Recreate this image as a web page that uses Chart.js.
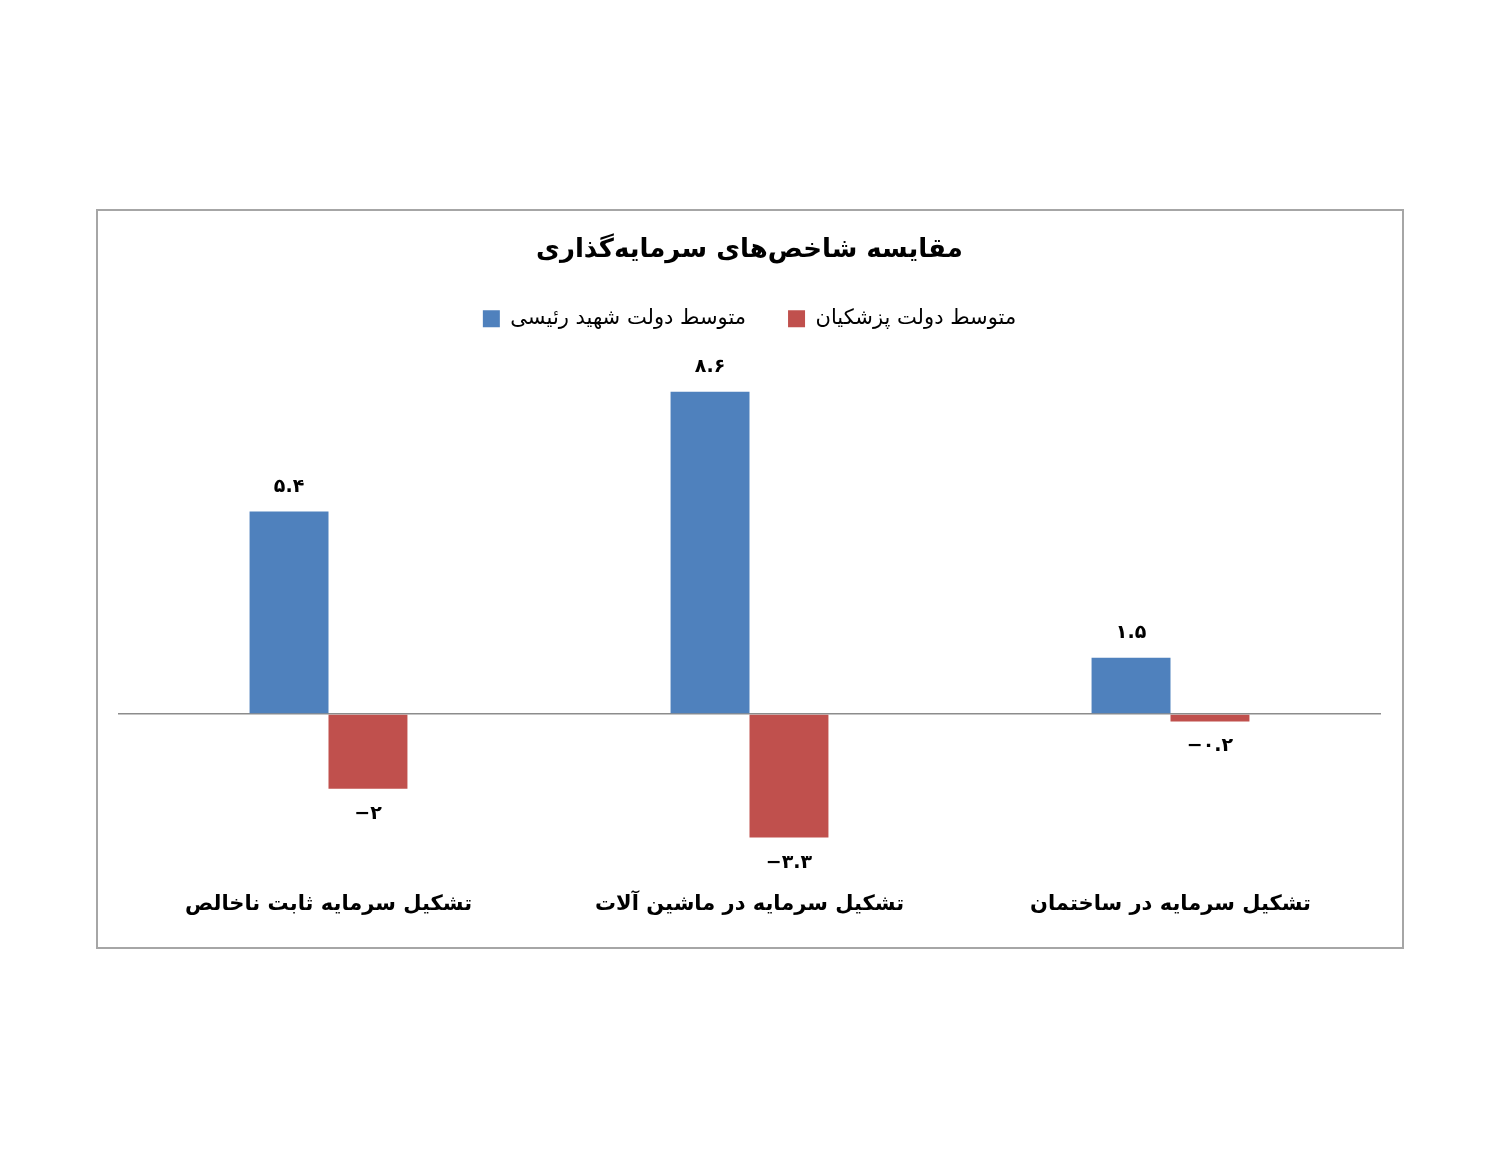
<!DOCTYPE html>
<html>
<head>
<meta charset="utf-8">
<script src="https://cdn.jsdelivr.net/npm/chart.js@4/dist/chart.umd.min.js"></script>
<style>
  body { margin: 0; background: #fff; }
  #frame {
    position: absolute; left: 96px; top: 209px;
    width: 1308px; height: 740px;
    border: 2px solid #a6a6a6; box-sizing: border-box;
  }
</style>
</head>
<body>
<div id="frame"><canvas id="invest" width="1304" height="736"></canvas></div>
<script>
// categories left to right as they appear on the chart
const categories = ['تشکیل سرمایه ثابت ناخالص', 'تشکیل سرمایه در ماشین آلات', 'تشکیل سرمایه در ساختمان'];
const raisiValues = [5.4, 8.6, 1.5];
const pezeshkianValues = [-2, -3.3, -0.2];
const raisiLabels = ['۵.۴', '۸.۶', '۱.۵'];
const pezeshkianLabels = ['−۲', '−۳.۳', '−۰.۲'];

const persianFont = "'DejaVu Sans', 'Noto Sans', sans-serif";

// draws the value text above / below each bar
const barLabels = {
    id: 'barLabels',
    afterDatasetsDraw(chart) {
        const ctx = chart.ctx;
        ctx.save();
        ctx.font = 'bold 19px ' + persianFont;
        ctx.fillStyle = '#000';
        ctx.textAlign = 'center';
        ctx.textBaseline = 'middle';
        chart.data.datasets.forEach((ds, i) => {
            chart.getDatasetMeta(i).data.forEach((bar, j) => {
                const up = ds.data[j] >= 0;
                const y = up ? bar.y - 25 : bar.y + 25;
                ctx.fillText(ds.valueLabels[j], bar.x, y);
            });
        });
        ctx.restore();
    }
};

const ctx = document.getElementById('invest').getContext('2d');
const investChart = new Chart(ctx, {
    type: 'bar',
    data: {
        labels: categories,
        datasets: [
            {
                label: 'متوسط دولت شهید رئیسی',
                data: raisiValues,
                valueLabels: raisiLabels,
                backgroundColor: '#4f81bd',
                categoryPercentage: 0.375,
                barPercentage: 1
            },
            {
                label: 'متوسط دولت پزشکیان',
                data: pezeshkianValues,
                valueLabels: pezeshkianLabels,
                backgroundColor: '#c0504d',
                categoryPercentage: 0.375,
                barPercentage: 1
            }
        ]
    },
    options: {
        responsive: false,
        animation: false,
        layout: {
            padding: { left: 20, right: 21, top: 16, bottom: 2 }
        },
        plugins: {
            title: {
                display: true,
                text: 'مقایسه شاخص‌های سرمایه‌گذاری',
                color: '#000',
                font: { family: persianFont, size: 26, weight: 'bold' },
                padding: { top: 8, bottom: 0 }
            },
            legend: {
                display: true,
                labels: {
                    color: '#000',
                    font: { family: persianFont, size: 21 },
                    boxWidth: 17,
                    boxHeight: 17,
                    padding: 42
                }
            },
            tooltip: { enabled: false }
        },
        scales: {
            x: {
                grid: { display: false, drawTicks: false },
                border: { display: false },
                ticks: {
                    color: '#000',
                    padding: 28,
                    font: { family: persianFont, size: 21, weight: 'bold' }
                }
            },
            y: {
                min: -4,
                max: 10,
                ticks: { display: false, stepSize: 1 },
                border: { display: false },
                grid: {
                    drawTicks: false,
                    lineWidth: 1.5,
                    color: c => c.tick.value === 0 ? '#8c8c8c' : 'rgba(0,0,0,0)'
                }
            }
        }
    },
    plugins: [barLabels]
});
</script>
</body>
</html>
